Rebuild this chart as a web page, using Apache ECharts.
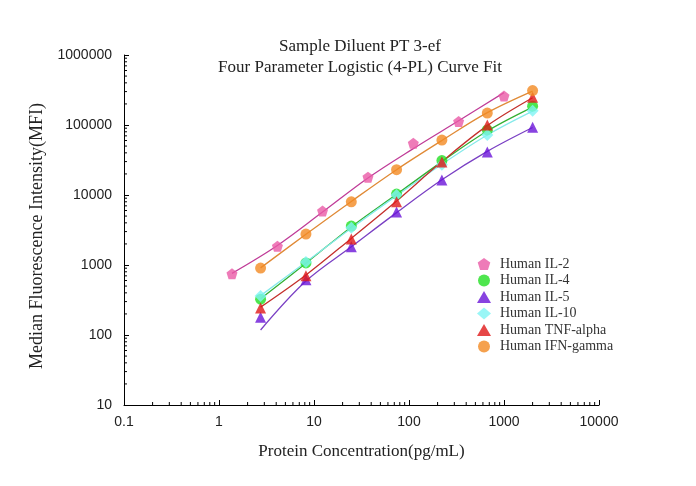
<!DOCTYPE html>
<html><head><meta charset="utf-8">
<script src="https://cdn.jsdelivr.net/npm/echarts@6/dist/echarts.min.js"></script>
<style>html,body{margin:0;padding:0;background:#fff}#c{width:696px;height:486px}</style>
</head><body><div id="c"></div>
<script>
// Concentrations (pg/mL)
var concIL2 = [1.37, 4.12, 12.3, 37, 111, 333, 1000];
var concStd = [2.74, 8.23, 24.7, 74, 222, 667, 2000];
// Measured MFI
var il2Pts  = [750, 1850, 5900, 18000, 55000, 112000, 260000];
var il4Pts  = [325, 1070, 3600, 10300, 31000, 85000, 186000];
var il5Pts  = [180, 614, 1820, 5700, 16400, 41000, 93000];
var il10Pts = [360, 1100, 3400, 10000, 27000, 72000, 160000];
var tnfPts  = [243, 700, 2350, 8000, 29500, 100000, 250000];
var ifnPts  = [905, 2770, 8000, 23000, 61000, 148000, 310000];
// Fitted curve values
var il2Fit  = [760, 1900, 5700, 17500, 46000, 115000, 290000];
var il4Fit  = [330, 1060, 3500, 10200, 30000, 82000, 180000];
var il5Fit  = [118, 590, 1820, 5600, 16500, 42000, 92000];
var il10Fit = [365, 1100, 3350, 9800, 27500, 72000, 158000];
var tnfFit  = [250, 720, 2400, 8200, 30000, 98000, 245000];
var ifnFit  = [910, 2750, 8100, 23000, 60000, 150000, 305000];
var names = ['Human IL-2','Human IL-4','Human IL-5','Human IL-10','Human TNF-alpha','Human IFN-gamma'];
var xTicks = [0.1, 1, 10, 100, 1000, 10000];
var yTicks = [10, 100, 1000, 10000, 100000, 1000000];

function pairs(xs, ys){ return xs.map(function(x,i){ return [x, ys[i]]; }); }
var pentagon = 'path://M0,-10L9.51,-3.09L5.88,8.09L-5.88,8.09L-9.51,-3.09Z';

var specs = [
  {name:names[0], xs:concIL2, pts:il2Pts, fit:il2Fit, sym:pentagon, size:11, pc:'#ea5aa6', lc:'#c03c98'},
  {name:names[1], xs:concStd, pts:il4Pts, fit:il4Fit, sym:'circle', size:11, pc:'#22e022', lc:'#34b034'},
  {name:names[2], xs:concStd, pts:il5Pts, fit:il5Fit, sym:'triangle', size:11, pc:'#6a14d8', lc:'#7a40c4'},
  {name:names[3], xs:concStd, pts:il10Pts, fit:il10Fit, sym:'diamond', size:12, pc:'#80f4f4', lc:'#86eaea'},
  {name:names[4], xs:concStd, pts:tnfPts, fit:tnfFit, sym:'triangle', size:11, pc:'#e01818', lc:'#c4302c'},
  {name:names[5], xs:concStd, pts:ifnPts, fit:ifnFit, sym:'circle', size:11, pc:'#f28a22', lc:'#e08a36'}
];

// minor tick positions (2..9 x 10^k)
var xMinor = [], yMinor = [];
for (var k = -1; k < 4; k++) for (var m = 2; m < 10; m++) xMinor.push(m * Math.pow(10, k));
for (var k2 = 1; k2 < 6; k2++) for (var m2 = 2; m2 < 10; m2++) yMinor.push(m2 * Math.pow(10, k2));

var series = [];
specs.forEach(function(s){
  series.push({type:'line', name:s.name+' fit', data:pairs(s.xs, s.fit), smooth:0.35, showSymbol:false,
    symbol:'none', lineStyle:{color:s.lc, width:1.3}, z:2, silent:true});
});
specs.forEach(function(s){
  series.push({type:'scatter', name:s.name, data:pairs(s.xs, s.pts), symbol:s.sym, symbolSize:s.size,
    itemStyle:{color:s.pc}, z:3});
});
series.push({type:'custom', name:'xminor', silent:true, clip:false, z:5,
  data:xMinor.map(function(v){return [v, 10];}),
  renderItem:function(params, api){
    var p = api.coord([api.value(0), api.value(1)]);
    return {type:'line', shape:{x1:p[0], y1:p[1], x2:p[0], y2:p[1]-3}, style:{stroke:'#000', lineWidth:1}};
  }});
series.push({type:'custom', name:'yminor', silent:true, clip:false, z:5,
  data:yMinor.map(function(v){return [0.1, v];}),
  renderItem:function(params, api){
    var p = api.coord([api.value(0), api.value(1)]);
    return {type:'line', shape:{x1:p[0], y1:p[1], x2:p[0]+3, y2:p[1]}, style:{stroke:'#000', lineWidth:1}};
  }});

var chart = echarts.init(document.getElementById('c'));
chart.setOption({
  animation:false,
  backgroundColor:'#fff',
  title:{text:'Sample Diluent PT 3-ef\nFour Parameter Logistic (4-PL) Curve Fit', left:355, top:31, textAlign:'center',
    textStyle:{fontFamily:'Liberation Serif', fontSize:17, fontWeight:'normal', color:'#222', lineHeight:21}},
  legend:{orient:'vertical', left:472, top:252, itemGap:2.5, itemWidth:14, itemHeight:12,
    data:names, textStyle:{fontFamily:'Liberation Serif', fontSize:14, color:'#333', padding:[0,0,0,4]}},
  grid:{left:124, right:97, top:55, bottom:81},
  xAxis:{type:'log', logBase:10, min:xTicks[0], max:xTicks[xTicks.length-1],
    name:'Protein Concentration(pg/mL)', nameLocation:'middle', nameGap:38,
    nameTextStyle:{fontFamily:'Liberation Serif', fontSize:17, color:'#222'},
    axisLine:{show:true, lineStyle:{color:'#000', width:1}},
    axisTick:{show:true, inside:true, length:5, lineStyle:{color:'#000'}},
    axisLabel:{fontFamily:'Liberation Sans', fontSize:14, color:'#222', margin:10,
      formatter:function(v){ return String(v); }},
    splitLine:{show:false}},
  yAxis:{type:'log', logBase:10, min:yTicks[0], max:yTicks[yTicks.length-1],
    name:'Median Fluorescence Intensity(MFI)', nameLocation:'middle', nameGap:70,
    nameTextStyle:{fontFamily:'Liberation Serif', fontSize:18, color:'#222', padding:[0,12,0,0]},
    axisLine:{show:true, lineStyle:{color:'#000', width:1}},
    axisTick:{show:true, inside:true, length:5, lineStyle:{color:'#000'}},
    axisLabel:{fontFamily:'Liberation Sans', fontSize:14, color:'#222', margin:12,
      formatter:function(v){ return String(Math.round(v)); }},
    splitLine:{show:false}},
  series:series
});
</script></body></html>
